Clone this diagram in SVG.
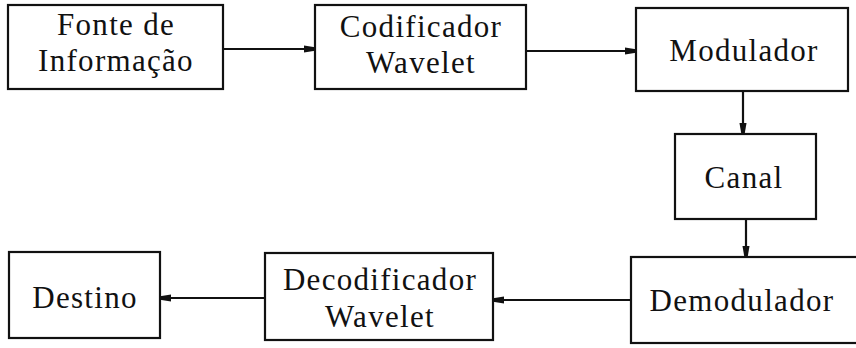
<svg xmlns="http://www.w3.org/2000/svg" width="856" height="348" viewBox="0 0 856 348">
  <style>
    .box { fill: #ffffff; stroke: #111111; stroke-width: 2.2; }
    .lbl { font-family: "Liberation Serif", "Times New Roman", serif; font-size: 31px; letter-spacing: 1.3px; fill: #111111; text-anchor: middle; }
    .wire { stroke: #111111; stroke-width: 2.2; fill: none; marker-end: url(#head); }
  </style>
  <defs>
    <marker id="head" viewBox="0 0 10 8" refX="10" refY="4" markerWidth="5" markerHeight="4" orient="auto" markerUnits="strokeWidth">
      <path d="M0,0.8 L10,2.5 L10,5.5 L0,7.2 Z" fill="#111111"/>
    </marker>
  </defs>
  <rect width="856" height="348" fill="#ffffff"/>

  <g id="connectors">
    <line class="wire" x1="223" y1="49" x2="315" y2="49"/>
    <line class="wire" x1="526" y1="51" x2="636" y2="51"/>
    <line class="wire" x1="743" y1="91" x2="743" y2="134"/>
    <line class="wire" x1="746" y1="219" x2="746" y2="257"/>
    <line class="wire" x1="631" y1="300" x2="493" y2="300"/>
    <line class="wire" x1="265" y1="298" x2="160" y2="298"/>
  </g>

  <g id="fonte">
    <rect class="box" x="8" y="5" width="215" height="84"/>
    <text class="lbl" x="116" y="35">Fonte de</text>
    <text class="lbl" x="116" y="71">Informação</text>
  </g>
  <g id="codificador">
    <rect class="box" x="315" y="5" width="211" height="84"/>
    <text class="lbl" x="421" y="37">Codificador</text>
    <text class="lbl" x="421" y="73">Wavelet</text>
  </g>
  <g id="modulador">
    <rect class="box" x="636" y="8" width="212" height="83"/>
    <text class="lbl" x="744" y="61">Modulador</text>
  </g>
  <g id="canal">
    <rect class="box" x="675" y="134" width="141" height="85"/>
    <text class="lbl" x="744" y="188">Canal</text>
  </g>
  <g id="demodulador">
    <rect class="box" x="631" y="257" width="240" height="86"/>
    <text class="lbl" x="742" y="311">Demodulador</text>
  </g>
  <g id="decodificador">
    <rect class="box" x="265" y="253" width="228" height="87"/>
    <text class="lbl" x="380" y="290">Decodificador</text>
    <text class="lbl" x="380" y="327">Wavelet</text>
  </g>
  <g id="destino">
    <rect class="box" x="9" y="252" width="151" height="86"/>
    <text class="lbl" x="85" y="308">Destino</text>
  </g>
</svg>
